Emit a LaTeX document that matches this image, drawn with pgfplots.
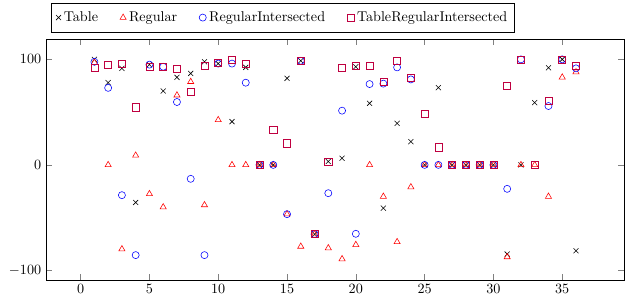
\documentclass[border=0pt]{standalone}
\usepackage{pgfplots}
\pgfplotsset{compat=1.18}
\begin{document}
\begin{tikzpicture}
\begin{axis}[
  scale only axis,
  width=408pt, height=169.7pt,
  xmin=-2.5, xmax=39.5,
  ymin=-108.9, ymax=118.9,
  xtick={0,5,...,35},
  ytick={-100,0,100},
  mark size=2.5pt,
  legend columns=-1,
  legend style={at={(rel axis cs:0,1)}, anchor=south west, xshift=3.7pt, yshift=5pt, inner ysep=4pt,
    /tikz/every even column/.append style={column sep=13.5pt}},
]
\addplot[only marks, mark=x, black] coordinates {
(1,100)(2,78)(3,91.5)(4,-35.6)(5,95)(6,70)(7,83)(8,86.7)(9,97.7)(10,96)
(11,41)(12,92.4)(13,0)(14,0)(15,82)(16,98.7)(17,-65.6)(18,3.2)(19,6.3)(20,93)
(21,58.4)(22,-41)(23,39.4)(24,22)(25,0)(26,73.2)(27,0)(28,0)(29,0)(30,0)
(31,-84.5)(32,0)(33,59)(34,92)(35,100)(36,-81.4)};
\addlegendentry{Table}
\addplot[only marks, mark=triangle, red] coordinates {
(1,97)(2,0)(3,-79.8)(4,9)(5,-27.5)(6,-40)(7,66)(8,78.8)(9,-38)(10,42.6)
(11,0)(12,0)(13,0)(14,0)(15,-46.7)(16,-77.3)(17,-65.6)(18,-78.8)(19,-89.2)(20,-75.7)
(21,0)(22,-30)(23,-73)(24,-21)(25,0)(26,0)(27,0)(28,0)(29,0)(30,0)
(31,-87.3)(32,0)(33,0)(34,-30)(35,83)(36,88)};
\addlegendentry{Regular}
\addplot[only marks, mark=o, blue] coordinates {
(1,97.7)(2,73)(3,-28.7)(4,-85.5)(5,95)(6,93)(7,59.6)(8,-13.2)(9,-85.5)(10,96)
(11,96)(12,77.9)(13,0)(14,0)(15,-46.7)(16,98.7)(17,-65.6)(18,-26.8)(19,51.4)(20,-65.3)
(21,76.6)(22,77)(23,92.4)(24,81)(25,0)(26,0)(27,0)(28,0)(29,0)(30,0)
(31,-22.7)(32,100)(34,55.8)(35,100)(36,91.5)};
\addlegendentry{RegularIntersected}
\addplot[only marks, mark=square, purple] coordinates {
(1,92)(2,95)(3,96)(4,54.6)(5,92.7)(6,93)(7,90.8)(8,69.4)(9,94)(10,96.8)
(11,100)(12,96)(13,0)(14,33)(15,20.5)(16,98.7)(17,-65.6)(18,3.2)(19,92)(20,94.3)
(21,94.3)(22,78.8)(23,98.7)(24,82.6)(25,48.3)(26,16.7)(27,0)(28,0)(29,0)(30,0)
(31,75)(32,100)(33,0)(34,60.8)(35,100)(36,93.7)};
\addlegendentry{TableRegularIntersected}
\end{axis}
\path (current bounding box.south west) ++(-3pt,0) (current bounding box.north east) ++(11pt,2pt);
\end{tikzpicture}
\end{document}
